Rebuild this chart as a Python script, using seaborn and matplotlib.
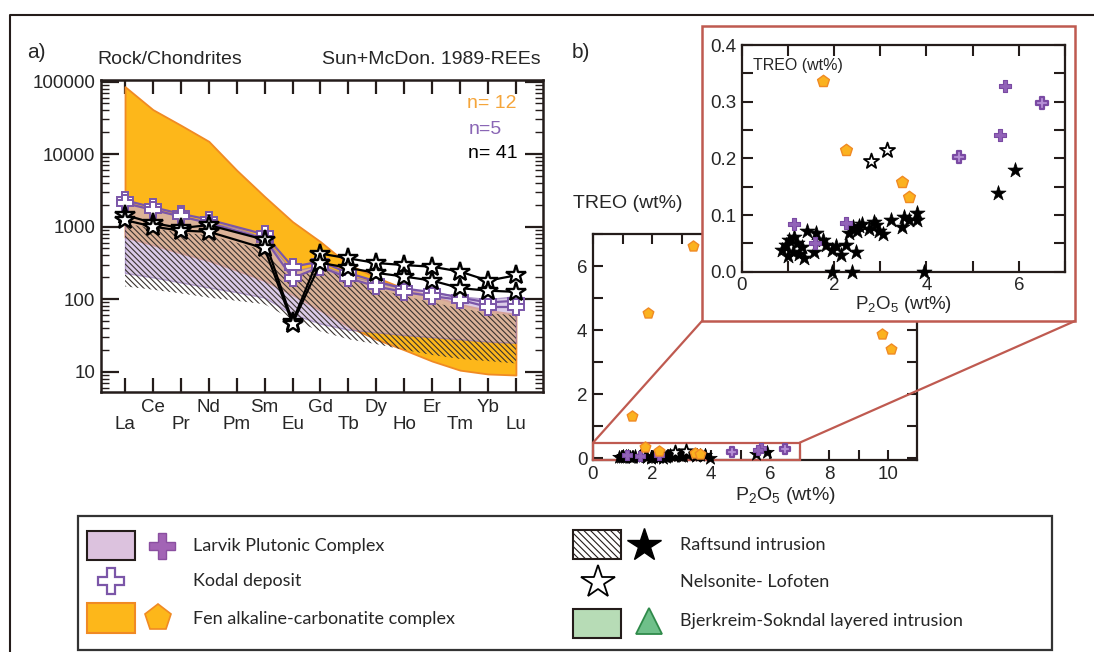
import numpy as np
import pandas as pd
import seaborn as sns
import matplotlib.pyplot as plt
from matplotlib.patches import Rectangle, ConnectionPatch
from matplotlib.ticker import MultipleLocator, LogLocator, NullFormatter, FormatStrFormatter

# ---------------- data: panel a (chondrite-normalised REE) ----------------
ree = ["La", "Ce", "Pr", "Nd", "Pm", "Sm", "Eu", "Gd", "Tb", "Dy", "Ho", "Er", "Tm", "Yb", "Lu"]
nan = np.nan

fen_max = [85000, 41000, 25000, 15000, 6000, 2600, 1170, 620, 300, 200, 140, 110, 85, 70, 62]
fen_min = [720, 560, 430, 340, 250, 180, 115, 70, 42, 28, 20, 14, 10.5, 9.3, 9]

larvik_max = [2150, 1750, 1400, 1150, 950, 700, 240, 300, 210, 170, 140, 125, 110, 100, 110]
larvik_min = [230, 200, 170, 145, 125, 105, 62, 46, 38, 35, 32, 30, 28, 26, 25]

raft_max = [1100, 950, 830, 760, 600, 470, 200, 280, 195, 140, 110, 90, 75, 64, 60]
raft_min = [150, 135, 120, 105, 95, 85, 52, 36, 28, 24, 20, 17, 15, 14, 13]

kodal_a = [2300, 1850, 1500, 1250, nan, 780, 280, 330, 230, 175, 140, 125, 105, 90, 95]
kodal_b = [2100, 1700, 1380, 1120, nan, 680, 195, 280, 195, 150, 125, 110, 98, 78, 78]

nels_a = [1450, 1120, 955, 1050, nan, 660, 49, 425, 365, 315, 295, 280, 240, 180, 213]
nels_b = [1230, 1000, 880, 850, nan, 500, 46, 317, 270, 230, 205, 180, 142, 131, 126]

# ---------------- data: panel b (TREO vs P2O5, wt%) ----------------
raft_p2o5 = [0.88, 0.95, 1.03, 1.10, 1.13, 1.24, 1.31, 1.35, 1.42, 1.57,
             1.60, 1.75, 1.82, 1.96, 2.14, 2.25, 2.32, 2.40, 2.47, 2.50,
             2.61, 2.76, 2.87, 2.97, 3.23, 3.48, 3.52, 3.62, 3.80, 3.80,
             1.96, 2.38, 3.95, 5.54, 5.91, 1.00, 1.20, 2.05, 2.55, 2.90, 3.05]
raft_treo = [0.038, 0.047, 0.056, 0.035, 0.062, 0.032, 0.044, 0.025, 0.072, 0.035,
             0.068, 0.056, 0.047, 0.038, 0.029, 0.047, 0.068, 0.079, 0.035, 0.071,
             0.085, 0.076, 0.088, 0.071, 0.091, 0.079, 0.097, 0.091, 0.103, 0.092,
             0.0, 0.0, 0.0, 0.138, 0.179, 0.028, 0.050, 0.045, 0.080, 0.082, 0.066]

nels_p2o5 = [2.79, 3.14]
nels_treo = [0.196, 0.215]

larvik_p2o5 = [5.70, 5.59, 1.14, 2.25, 1.59]
larvik_treo = [0.328, 0.241, 0.085, 0.086, 0.051]

kodal_p2o5 = [6.51, 4.71]
kodal_treo = [0.297, 0.202]

fen_p2o5 = [1.77, 2.25, 3.47, 3.62, 3.38, 1.85, 1.31, 9.79, 10.09]
fen_treo = [0.336, 0.215, 0.159, 0.132, 6.63, 4.54, 1.32, 3.88, 3.40]

# ---------------- style ----------------
sns.set_theme(style="ticks")
plt.rcParams['font.family'] = ['Liberation Sans', 'DejaVu Sans']
plt.rcParams['mathtext.fontset'] = 'custom'
plt.rcParams['mathtext.rm'] = 'Liberation Sans'
plt.rcParams['mathtext.default'] = 'rm'
plt.rcParams['hatch.linewidth'] = 0.8
plt.rcParams['hatch.color'] = '#3a3330'

ORANGE = '#fdb71a'
ORANGE_E = '#f08a24'
LAV = '#c9b0dd'
PURPLE = '#7b56a8'
PURPLE_F = '#9263b8'
RED = '#bf5a50'
DARK = '#241c1a'

W, H = 1094, 652
fig = plt.figure(figsize=(W / 100, H / 100), dpi=100)


def fx(px):
    return px / W


def fy(py):
    return 1 - py / H


# overlay in pixel space: outer frame + legend
ov = fig.add_axes([0, 0, 1, 1], zorder=-1)
ov.set_xlim(0, W)
ov.set_ylim(H, 0)
ov.axis('off')
ov.plot([10, 10, W], [H, 15, 15], color=DARK, lw=1.5, clip_on=False)

ov.add_patch(Rectangle((78, 516), 974, 134, fill=False, ec='#333333', lw=1.6))
ov.add_patch(Rectangle((87, 531), 48, 29, fc='#dcc2de', ec=DARK, lw=1.5))
ov.plot(162, 546, marker='P', ms=19, mfc='#a264b5', mec='#8a4fa0', mew=1)
ov.plot(111, 581, marker='P', ms=19, mfc='white', mec=PURPLE, mew=1.6)
ov.add_patch(Rectangle((87, 603), 48, 30, fc=ORANGE, ec=ORANGE_E, lw=1.5))
ov.plot(158, 618, marker='p', ms=20, mfc=ORANGE, mec=ORANGE_E, mew=1.2)

ov.add_patch(Rectangle((573, 530), 48, 29, fc='white', ec=DARK, lw=1.5, hatch='\\\\\\\\\\'))
ov.plot(644, 545, marker='*', ms=25, mfc='black', mec='black')
ov.plot(598, 582, marker='*', ms=25, mfc='white', mec='black', mew=1.3)
ov.add_patch(Rectangle((573, 609), 48, 29, fc='#b7dcb6', ec=DARK, lw=1.5))
ov.plot(649, 621, marker='^', ms=19, mfc='#6fc08a', mec='#2f8a4a', mew=1.3)

leg_font = dict(family=['Lato', 'DejaVu Sans'], fontsize=13, va='center')
ov.text(193, 546, "Larvik Plutonic Complex", **leg_font)
ov.text(193, 581, "Kodal deposit", **leg_font)
ov.text(193, 619, "Fen alkaline-carbonatite complex", **leg_font)
ov.text(680, 545, "Raftsund intrusion", **leg_font)
ov.text(680, 582, "Nelsonite- Lofoten", **leg_font)
ov.text(680, 621, "Bjerkreim-Sokndal layered intrusion", **leg_font)

# ---------------- panel a ----------------
axA = fig.add_axes([fx(101), fy(392), (543 - 101) / W, (392 - 80) / H])
idx = np.arange(len(ree))
ree_df = pd.DataFrame({"idx": idx, "ree": ree,
                       "kodal_a": kodal_a, "kodal_b": kodal_b,
                       "nels_a": nels_a, "nels_b": nels_b})

axA.fill_between(idx, fen_min, fen_max, fc=ORANGE, ec=ORANGE_E, lw=1.3, zorder=1)
axA.fill_between(idx, larvik_min, larvik_max, fc=LAV, ec='#9275b8', lw=1.0, alpha=0.65, zorder=2)
axA.fill_between(idx, raft_min, raft_max, fc='none', ec='#3a3330', lw=0,
                 hatch='\\\\\\\\\\\\', zorder=3)

for col in ["kodal_a", "kodal_b"]:
    sns.lineplot(data=ree_df.dropna(subset=[col]), x="idx", y=col, ax=axA,
                 color=PURPLE, lw=1.6, marker='P', markersize=11,
                 markerfacecolor='white', markeredgecolor=PURPLE, markeredgewidth=1.4,
                 zorder=4)
for col in ["nels_a", "nels_b"]:
    sns.lineplot(data=ree_df.dropna(subset=[col]), x="idx", y=col, ax=axA,
                 color='black', lw=1.6, marker='*', markersize=15,
                 markerfacecolor='white', markeredgecolor='black', markeredgewidth=1.7,
                 zorder=5)

axA.set_yscale('log')
axA.set_xlim(-0.86, 14.97)
axA.set_ylim(5.25, 105000)
axA.set_xlabel('')
axA.set_ylabel('')
axA.set_xticks(idx)
axA.set_xticklabels([r if i % 2 else "\n" + r for i, r in enumerate(ree)],
                    fontsize=13.5, linespacing=1.0)
axA.set_yticks([10, 100, 1000, 10000, 100000])
axA.set_yticklabels(['10', '100', '1000', '10000', '100000'], fontsize=13.5)
axA.yaxis.set_minor_locator(LogLocator(base=10, subs=np.arange(2, 10), numticks=20))
axA.yaxis.set_minor_formatter(NullFormatter())
axA.tick_params(axis='x', which='major', direction='in', top=True, length=10,
                width=1.6, pad=5, color=DARK)
axA.tick_params(axis='y', which='major', direction='in', right=True, length=13,
                width=1.6, pad=4, color=DARK)
axA.tick_params(axis='y', which='minor', direction='in', right=True, length=6,
                width=1.0, color=DARK)
for sp in axA.spines.values():
    sp.set_linewidth(1.8)
    sp.set_color(DARK)

fig.text(fx(27), fy(52), 'a)', fontsize=15, va='center')
fig.text(fx(97), fy(60), 'Rock/Chondrites', fontsize=14, va='center')
fig.text(fx(541), fy(60), 'Sun+McDon. 1989-REEs', fontsize=14, ha='right', va='center')
fig.text(fx(492), fy(104), 'n= 12', fontsize=14, ha='center', va='center', color='#f5a53a')
fig.text(fx(485), fy(130), 'n=5', fontsize=14, ha='center', va='center', color='#8a66b5')
fig.text(fx(493), fy(154), 'n= 41', fontsize=14, ha='center', va='center', color='black')

# ---------------- panel b ----------------
raft_df = pd.DataFrame({"P2O5": raft_p2o5, "TREO": raft_treo})
nels_df = pd.DataFrame({"P2O5": nels_p2o5, "TREO": nels_treo})
larvik_df = pd.DataFrame({"P2O5": larvik_p2o5, "TREO": larvik_treo})
kodal_df = pd.DataFrame({"P2O5": kodal_p2o5, "TREO": kodal_treo})
fen_df = pd.DataFrame({"P2O5": fen_p2o5, "TREO": fen_treo})


def scatter_all(ax, scale, limit=None):
    groups = [
        (raft_df, dict(marker='*', s=130 * scale, color='black', edgecolor='black', linewidth=0.5)),
        (larvik_df, dict(marker='P', s=75 * scale, color=PURPLE_F, edgecolor='#7a4aa3', linewidth=0.8)),
        (kodal_df, dict(marker='P', s=75 * scale, color='#b58fd6', edgecolor='#7a4aa3', linewidth=1.6)),
        (nels_df, dict(marker='*', s=130 * scale, color='white', edgecolor='black', linewidth=1.3)),
        (fen_df, dict(marker='p', s=80 * scale, color='#fbb21f', edgecolor=ORANGE_E, linewidth=1.0)),
    ]
    for df, kw in groups:
        if limit is not None:
            df = df[(df.P2O5 <= limit[0]) & (df.TREO <= limit[1])]
        sns.scatterplot(data=df, x="P2O5", y="TREO", ax=ax, clip_on=False, zorder=5, **kw)
    ax.set_xlabel('')
    ax.set_ylabel('')


axB = fig.add_axes([fx(593), fy(460), (917 - 593) / W, (460 - 234) / H])
scatter_all(axB, 0.8)
axB.set_xlim(0, 10.98)
axB.set_ylim(-0.06, 7.0)
axB.xaxis.set_major_locator(MultipleLocator(2))
axB.xaxis.set_minor_locator(MultipleLocator(1))
axB.yaxis.set_major_locator(MultipleLocator(2))
axB.yaxis.set_minor_locator(MultipleLocator(1))
axB.tick_params(which='both', direction='in', top=True, right=True, length=7,
                width=1.5, labelsize=13.5, color=DARK, pad=4)
for sp in axB.spines.values():
    sp.set_linewidth(1.6)
    sp.set_color(DARK)
axB.add_patch(Rectangle((0, -0.06), 7.0, 0.54, fill=False, ec=RED, lw=1.6,
                        clip_on=False, zorder=4))

fig.text(fx(572), fy(53), 'b)', fontsize=15, va='center')
fig.text(fx(573), fy(203), 'TREO (wt%)', fontsize=14, va='center')
fig.text(fx(785), fy(495), 'P$_2$O$_5$ (wt%)', fontsize=14, ha='center', va='center')

# white zoom box with connectors
fig.add_artist(Rectangle((fx(702), fy(321)), (1075 - 702) / W, (321 - 26) / H,
                         transform=fig.transFigure, fc='white', ec=RED, lw=1.8, zorder=2))
for xa, xb in [(0.0, 702), (7.0, 1075)]:
    fig.add_artist(ConnectionPatch(xyA=(xa, 0.48), coordsA=axB.transData,
                                   xyB=(fx(xb), fy(321)), coordsB=fig.transFigure,
                                   color=RED, lw=1.6, zorder=2))

axI = fig.add_axes([fx(741.7), fy(271.7), (1065 - 741.7) / W, (271.7 - 45) / H], zorder=3)
scatter_all(axI, 1.0, limit=(7.0, 0.4))
axI.set_xlim(0, 7.0)
axI.set_ylim(0, 0.4)
axI.xaxis.set_major_locator(MultipleLocator(2))
axI.xaxis.set_minor_locator(MultipleLocator(1))
axI.yaxis.set_major_locator(MultipleLocator(0.1))
axI.yaxis.set_minor_locator(MultipleLocator(0.05))
axI.yaxis.set_major_formatter(FormatStrFormatter('%.1f'))
axI.tick_params(which='both', direction='in', top=True, right=True, length=8,
                width=1.5, labelsize=13.5, color=DARK, pad=4)
for sp in axI.spines.values():
    sp.set_linewidth(1.6)
    sp.set_color(DARK)
axI.set_xlabel('P$_2$O$_5$ (wt%)', fontsize=13.5, labelpad=0)
axI.text(0.035, 0.91, 'TREO (wt%)', transform=axI.transAxes, fontsize=11.5, va='center')

fig.savefig("out.png", dpi=100)
